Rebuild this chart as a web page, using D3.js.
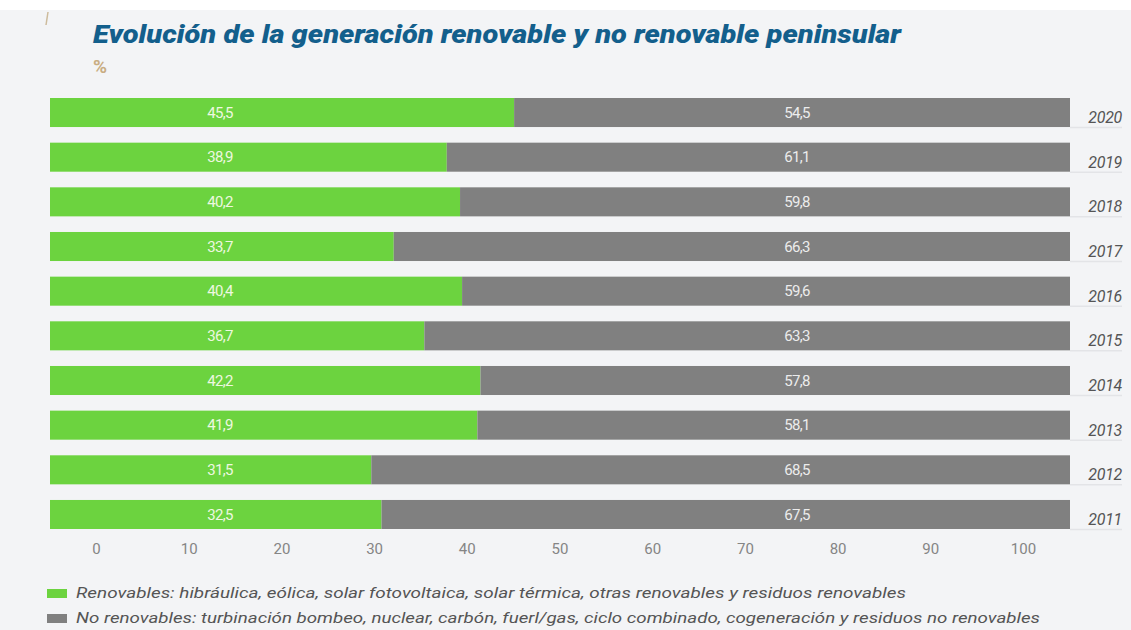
<!DOCTYPE html>
<html>
<head>
<meta charset="utf-8">
<script src="https://cdn.jsdelivr.net/npm/d3@7"></script>
<style>
  html, body { margin: 0; padding: 0; background: #fff; }
  svg { display: block; }
</style>
</head>
<body>
<svg id="sv" width="1131" height="630"></svg>
<script>
// data
const years = ["2020", "2019", "2018", "2017", "2016", "2015", "2014", "2013", "2012", "2011"];
const renovables = [45.5, 38.9, 40.2, 33.7, 40.4, 36.7, 42.2, 41.9, 31.5, 32.5];
const noRenovables = [54.5, 61.1, 59.8, 66.3, 59.6, 63.3, 57.8, 58.1, 68.5, 67.5];
const axisTicks = [0, 10, 20, 30, 40, 50, 60, 70, 80, 90, 100];
const legendLabels = [
  "Renovables: hibráulica, eólica, solar fotovoltaica, solar térmica, otras renovables y residuos renovables",
  "No renovables: turbinación bombeo, nuclear, carbón, fuerl/gas, ciclo combinado, cogeneración y residuos no renovables"
];

const GREEN = "#6cd33f", GREY = "#808080";
const fmt = v => d3.format(".1f")(v).replace(".", ",");
const svg = d3.select("#sv");

// background panel
svg.append("rect").attr("x", 0).attr("y", 10).attr("width", 1131).attr("height", 620).attr("fill", "#f3f4f6");
svg.append("line").attr("x1", 48).attr("y1", 12).attr("x2", 46).attr("y2", 25)
  .attr("stroke", "#cdbb9c").attr("stroke-width", 1.5);

// title
svg.append("text").attr("x", 93).attr("y", 43)
  .attr("font-family", "Roboto, sans-serif").attr("font-weight", 900).attr("font-style", "italic")
  .attr("font-size", 26).attr("fill", "#135f8c")
  .attr("textLength", 808).attr("lengthAdjust", "spacingAndGlyphs")
  .text("Evolución de la generación renovable y no renovable peninsular");
svg.append("text").attr("x", 93).attr("y", 73)
  .attr("font-family", "Roboto, sans-serif").attr("font-weight", 700)
  .attr("font-size", 19).attr("fill", "#c9ad82").text("%");

const x = d3.scaleLinear().domain([0, 100]).range([50, 1070]);
const xAxisScale = d3.scaleLinear().domain([0, 100]).range([96, 1023]);
const y = d3.scaleBand().domain(years).range([98, 529]).paddingInner(0.35).paddingOuter(0);

const rows = years.map((yr, i) => ({ yr, r: renovables[i], n: noRenovables[i] }));
const row = svg.append("g").selectAll("g").data(rows).enter().append("g")
  .attr("transform", d => `translate(0,${y(d.yr)})`);

// underline under year label
row.append("line").attr("x1", x(100)).attr("x2", 1122)
  .attr("y1", y.bandwidth() + 0.5).attr("y2", y.bandwidth() + 0.5)
  .attr("stroke", "#e3e4e7").attr("stroke-width", 1.5);

row.append("rect").attr("x", x(0)).attr("y", 0)
  .attr("width", d => x(d.r) - x(0)).attr("height", y.bandwidth()).attr("fill", GREEN);
row.append("rect").attr("x", d => x(d.r)).attr("y", 0)
  .attr("width", d => x(d.r + d.n) - x(d.r)).attr("height", y.bandwidth()).attr("fill", GREY);

row.append("text").attr("x", 220).attr("y", y.bandwidth() / 2).attr("dy", ".35em")
  .attr("text-anchor", "middle").attr("font-family", "Roboto, sans-serif").attr("font-size", 15)
  .attr("fill", "#eef8e0").attr("letter-spacing", -0.7).text(d => fmt(d.r));
row.append("text").attr("x", 797).attr("y", y.bandwidth() / 2).attr("dy", ".35em")
  .attr("text-anchor", "middle").attr("font-family", "Roboto, sans-serif").attr("font-size", 15)
  .attr("fill", "#ececec").attr("letter-spacing", -0.7).text(d => fmt(d.n));

row.append("text").attr("x", 1122).attr("y", y.bandwidth() - 4)
  .attr("text-anchor", "end").attr("font-family", "Roboto, sans-serif").attr("font-style", "italic")
  .attr("font-size", 16).attr("fill", "#555").attr("letter-spacing", -0.3).text(d => d.yr);

// axis labels
const ax = svg.append("g").attr("transform", "translate(0,540)")
  .call(d3.axisBottom(xAxisScale).tickValues(axisTicks).tickSize(0).tickFormat(d3.format("d")));
ax.select(".domain").remove();
ax.selectAll("text").attr("font-family", "Roboto, sans-serif").attr("font-size", 15)
  .attr("fill", "#858585").attr("dy", 0).attr("y", 14);

// legend
const leg = svg.append("g").selectAll("g").data(legendLabels).enter().append("g")
  .attr("transform", (d, i) => `translate(47,${593 + i * 25})`);
leg.append("rect").attr("x", 0).attr("y", -4).attr("width", 20).attr("height", 9)
  .attr("fill", (d, i) => i === 0 ? GREEN : GREY);
leg.append("text").attr("x", 29).attr("y", 0).attr("dy", ".35em")
  .attr("font-family", "Roboto, sans-serif").attr("font-style", "italic").attr("font-size", 15)
  .attr("fill", "#555")
  .attr("textLength", (d, i) => i === 0 ? 830 : 964).attr("lengthAdjust", "spacingAndGlyphs")
  .text(d => d);
</script>
</body>
</html>
